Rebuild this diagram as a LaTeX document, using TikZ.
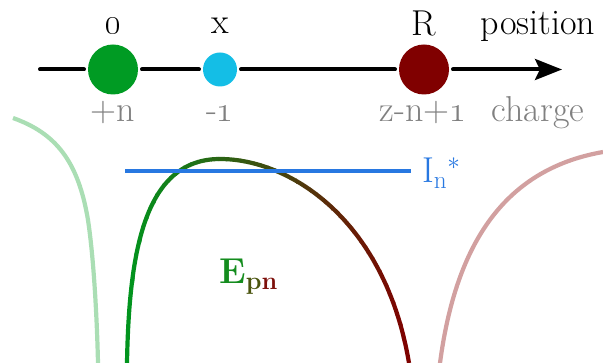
\documentclass[tikz,border=0pt]{standalone}
\usepackage{fix-cm}
\usepackage{amsmath}
\usepackage{xcolor}
\usetikzlibrary{arrows.meta}

\definecolor{ogreen}{RGB}{0,155,35}
\definecolor{xcyan}{RGB}{20,190,230}
\definecolor{rred}{RGB}{128,0,0}
\definecolor{cgreen}{RGB}{0,150,30}
\definecolor{lgreen}{RGB}{170,222,180}
\definecolor{lred}{RGB}{210,160,160}
\definecolor{lvlblue}{RGB}{40,120,225}
\definecolor{chgray}{RGB}{128,128,128}
\definecolor{epE}{RGB}{20,140,30}
\definecolor{epP}{RGB}{75,85,15}
\definecolor{epN}{RGB}{125,15,10}

\begin{document}
\begin{tikzpicture}[x=1pt, y=-1pt, >={Stealth[length=27pt, width=21pt, inset=5pt]},
  axis/.style={line width=4pt, line cap=round},
  atom/.style={circle, inner sep=0pt, outer sep=4pt, minimum size=50pt},
  lbl/.style={anchor=base, inner sep=0pt, font=\fontsize{36}{40}\selectfont},
  chg/.style={lbl, text=chgray},
  curve/.style={line width=4.2pt}]
  \useasboundingbox (0,0) rectangle (603,363);

  % position axis
  \coordinate (axl) at (40,69.5);
  \coordinate (axr) at (562,69.5);
  \node[atom, fill=ogreen] (o) at (113,69.5) {};
  \node[atom, fill=xcyan, minimum size=34pt] (x) at (220,69.5) {};
  \node[atom, fill=rred] (R) at (424,69.5) {};
  \draw[axis] (axl) -- (o);
  \draw[axis] (o) -- (x);
  \draw[axis] (x) -- (R);
  \draw[axis, ->] (R) -- (axr);

  \node[lbl] (olbl) at (113,34) {\oldstylenums{0}};
  \node[lbl] (xlbl) at (220,34) {x};
  \node[lbl] (Rlbl) at (424,36) {R};
  \node[lbl] (pos) at (538,35) {position};
  \node[chg] (ochg) at (113,122) {+n};
  \node[chg] (xchg) at (220,122) {-\oldstylenums{1}};
  \node[chg] (Rchg) at (423,122) {z-n+\oldstylenums{1}};
  \node[chg] (chg) at (538,122) {charge};

  % potential curves
  \draw[curve, lgreen] (13,118) .. controls (55,133) and (78,160) .. (88,220)
    .. controls (94,260) and (97,320) .. (98,363);
  \draw[curve, lred] (440,363) .. controls (455,250) and (500,170) .. (603,152);
  \foreach \i in {0,...,39} {
    \pgfmathsetmacro{\xa}{\i==0 ? 110 : 127+\i*7.05}
    \pgfmathsetmacro{\xb}{\i==39 ? 420 : 127+\i*7.05+7.6}
    \pgfmathsetmacro{\p}{100*(\i+0.5)/40}
    \begin{scope}
      \clip (\xa,100) rectangle (\xb,370);
      \draw[curve, draw=rred!\p!cgreen] (127,363) .. controls (129,250) and (145,159) .. (220,159)
        .. controls (290,159) and (385,220) .. (409,363);
    \end{scope}
  }

  % level
  \coordinate (lvl) at (125,171);
  \node[lbl, anchor=base west, inner xsep=11pt, text=lvlblue] (ion) at (411,183)
    {$\mathrm{I}_{\mathrm{n}}{}^{*}$};
  \draw[curve, lvlblue] (lvl) -- (lvl -| ion.west);

  \node[lbl, anchor=base west] (Epn) at (219,284)
    {$\mathbf{\color{epE}E}_{\mathbf{\color{epP}p\color{epN}n}}$};
\end{tikzpicture}
\end{document}
